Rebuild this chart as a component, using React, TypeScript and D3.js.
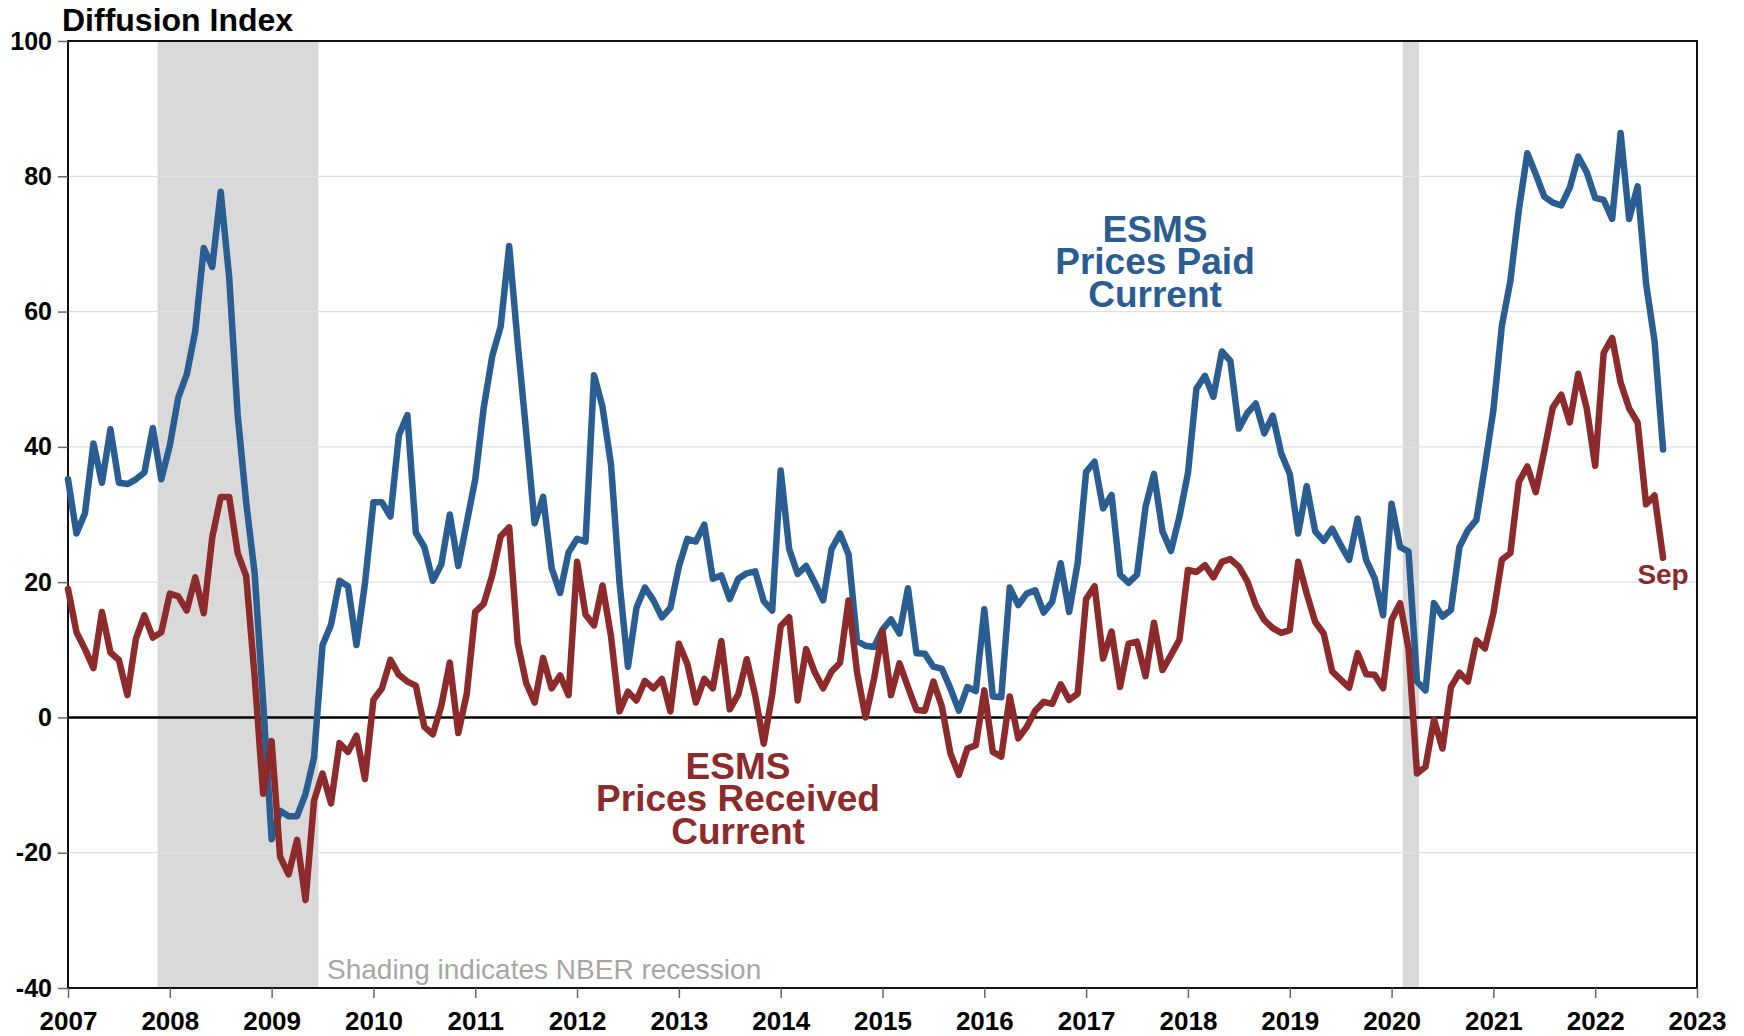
import React, { useEffect, useRef } from 'react';
import * as d3 from 'd3';

// monthly observations, Jan 2007 .. Sep 2022
const startYear = 2007;

const pricesPaid = [
  35.2, 27.2, 30.2, 40.5, 34.7, 42.6, 34.7, 34.5, 35.2, 36.2, 42.8, 35.2,
  40.2, 47.3, 50.7, 57.1, 69.4, 66.6, 77.7, 65.0, 44.7, 31.8, 21.3, 2.3,
  -18.0, -13.8, -14.6, -14.6, -11.3, -5.9, 10.7, 13.7, 20.2, 19.4, 10.7, 19.8,
  31.8, 31.8, 29.7, 41.7, 44.7, 27.3, 25.2, 20.2, 22.6, 30.0, 22.4, 28.8,
  35.2, 45.8, 53.4, 57.8, 69.7, 55.4, 42.2, 28.7, 32.6, 22.1, 18.4, 24.4,
  26.4, 26.0, 50.6, 45.9, 37.4, 20.0, 7.5, 16.2, 19.2, 17.3, 14.8, 16.2,
  22.3, 26.4, 26.0, 28.5, 20.5, 21.0, 17.5, 20.5, 21.3, 21.6, 17.2, 15.8,
  36.5, 24.9, 21.2, 22.4, 20.0, 17.3, 24.9, 27.2, 24.1, 11.3, 10.6, 10.4,
  13.0, 14.5, 12.4, 19.1, 9.5, 9.4, 7.5, 7.2, 4.3, 1.0, 4.5, 3.9,
  16.0, 3.1, 3.0, 19.2, 16.6, 18.3, 18.8, 15.5, 17.1, 22.8, 15.6, 22.8,
  36.3, 37.8, 30.9, 32.9, 21.1, 19.9, 21.1, 31.1, 36.0, 27.5, 24.6, 29.7,
  36.1, 48.6, 50.5, 47.4, 54.1, 52.7, 42.7, 45.0, 46.4, 42.0, 44.6, 39.0,
  36.0, 27.2, 34.2, 27.5, 26.1, 27.9, 25.5, 23.3, 29.4, 23.3, 20.6, 15.1,
  31.6, 25.2, 24.5, 5.3, 4.0, 16.9, 14.9, 15.9, 25.2, 27.7, 29.2, 37.1,
  45.4, 57.9, 64.5, 75.0, 83.4, 80.3, 77.0, 76.1, 75.7, 78.3, 82.9, 80.6,
  76.8, 76.5, 73.7, 86.4, 73.7, 78.5, 64.1, 55.6, 39.6,
];

const pricesReceived = [
  19.0, 12.6, 10.1, 7.3, 15.6, 9.6, 8.5, 3.3, 11.6, 15.1, 11.8, 12.6,
  18.3, 17.9, 15.8, 20.7, 15.4, 26.6, 32.6, 32.6, 24.3, 20.9, 6.0, -11.3,
  -3.5, -20.6, -23.2, -18.1, -27.0, -12.3, -8.3, -12.7, -3.8, -5.1, -2.7, -9.1,
  2.6, 4.3, 8.5, 6.3, 5.3, 4.7, -1.4, -2.5, 1.7, 8.1, -2.3, 3.5,
  15.6, 16.8, 21.0, 26.8, 28.1, 11.0, 5.1, 2.2, 8.8, 4.3, 6.2, 3.3,
  23.0, 15.2, 13.6, 19.5, 12.0, 0.9, 3.8, 2.5, 5.4, 4.3, 5.7, 0.9,
  10.9, 7.9, 2.2, 5.7, 4.3, 11.3, 1.2, 3.4, 8.6, 3.2, -3.9, 3.4,
  13.5, 14.8, 2.5, 10.1, 6.7, 4.3, 6.8, 8.1, 17.3, 6.7, 0.0, 5.7,
  12.8, 3.3, 8.0, 4.5, 1.1, 1.0, 5.3, 1.6, -5.3, -8.5, -4.6, -4.1,
  4.0, -5.1, -5.8, 3.1, -3.1, -1.4, 1.0, 2.3, 2.0, 4.9, 2.6, 3.5,
  17.5, 19.4, 8.7, 12.7, 4.5, 10.9, 11.2, 6.1, 14.0, 7.0, 9.2, 11.5,
  21.8, 21.5, 22.5, 20.7, 23.0, 23.4, 22.3, 20.1, 16.6, 14.4, 13.2, 12.5,
  12.9, 23.0, 18.3, 14.1, 12.4, 6.8, 5.6, 4.4, 9.5, 6.4, 6.3, 4.3,
  14.4, 16.9, 10.2, -8.3, -7.3, -0.3, -4.6, 4.5, 6.6, 5.3, 11.4, 10.2,
  15.4, 23.3, 24.3, 34.8, 37.1, 33.3, 39.4, 45.8, 47.7, 43.6, 50.8, 45.7,
  37.2, 53.9, 56.1, 49.5, 45.7, 43.6, 31.5, 32.8, 23.6,
];

const yearTicks = d3.range(2007, 2024);
const yTicks = [-40, -20, 0, 20, 40, 60, 80, 100];
// NBER recessions as fractional years
const recessions = [
  [2007.88, 2009.46],
  [2020.11, 2020.27],
];

const BLUE = '#2a5d91';
const RED = '#8c2a2c';
const FONT = '"Liberation Sans", Arial, Helvetica, sans-serif';

function DiffusionChart() {
  const svgRef = useRef(null);

  useEffect(() => {
    const svg = d3.select(svgRef.current);
    svg.selectAll('*').remove();

    const left = 68, right = 1697, top = 41, bottom = 988;

    const x = d3.scaleLinear().domain([2007, 2023]).range([left, right]);
    const y = d3.scaleLinear().domain([-40, 100]).range([bottom, top]);

    const t = (i) => startYear + i / 12;

    // recession shading
    svg.append('g')
      .selectAll('rect')
      .data(recessions)
      .enter()
      .append('rect')
      .attr('x', d => x(d[0]))
      .attr('width', d => x(d[1]) - x(d[0]))
      .attr('y', top)
      .attr('height', bottom - top)
      .attr('fill', '#d9d9d9');

    // gridlines
    svg.append('g')
      .selectAll('line')
      .data(yTicks.filter(v => v !== 0 && v !== 100 && v !== -40))
      .enter()
      .append('line')
      .attr('x1', left)
      .attr('x2', right)
      .attr('y1', d => y(d))
      .attr('y2', d => y(d))
      .attr('stroke', '#e1e1e1')
      .attr('stroke-width', 1.2);

    // shading note
    svg.append('text')
      .attr('x', 327)
      .attr('y', 979)
      .attr('font-family', FONT)
      .attr('font-size', 28)
      .attr('fill', '#a6a6a6')
      .text('Shading indicates NBER recession');

    // zero line
    svg.append('line')
      .attr('x1', left).attr('x2', right)
      .attr('y1', y(0)).attr('y2', y(0))
      .attr('stroke', '#000').attr('stroke-width', 2.5);

    // frame
    svg.append('rect')
      .attr('x', left).attr('y', top)
      .attr('width', right - left).attr('height', bottom - top)
      .attr('fill', 'none')
      .attr('stroke', '#111')
      .attr('stroke-width', 2);

    // Y axis
    const yAxis = svg.append('g')
      .attr('transform', `translate(${left},0)`)
      .call(d3.axisLeft(y).tickValues(yTicks).tickSize(10).tickPadding(6).tickFormat(d => String(d)));
    yAxis.select('.domain').remove();
    yAxis.selectAll('line').attr('stroke', '#666').attr('stroke-width', 1.5);
    yAxis.selectAll('text')
      .attr('font-family', FONT)
      .attr('font-size', 25)
      .attr('font-weight', 'bold')
      .attr('fill', '#000');

    // X axis
    const xAxis = svg.append('g')
      .attr('transform', `translate(0,${bottom})`)
      .call(d3.axisBottom(x).tickValues(yearTicks).tickSize(10).tickPadding(14).tickFormat(d => String(d)));
    xAxis.select('.domain').remove();
    xAxis.selectAll('line').attr('stroke', '#666').attr('stroke-width', 1.5);
    xAxis.selectAll('text')
      .attr('font-family', FONT)
      .attr('font-size', 26)
      .attr('font-weight', 'bold')
      .attr('fill', '#000');

    const line = d3.line()
      .x((d, i) => x(t(i)))
      .y(d => y(d));

    svg.append('path')
      .datum(pricesPaid)
      .attr('d', line)
      .attr('fill', 'none')
      .attr('stroke', BLUE)
      .attr('stroke-width', 6.5)
      .attr('stroke-linejoin', 'round')
      .attr('stroke-linecap', 'round');

    svg.append('path')
      .datum(pricesReceived)
      .attr('d', line)
      .attr('fill', 'none')
      .attr('stroke', RED)
      .attr('stroke-width', 6.5)
      .attr('stroke-linejoin', 'round')
      .attr('stroke-linecap', 'round');

    // title
    svg.append('text')
      .attr('x', 62)
      .attr('y', 31)
      .attr('font-family', FONT)
      .attr('font-size', 32)
      .attr('font-weight', 'bold')
      .attr('fill', '#000')
      .text('Diffusion Index');

    // series labels
    const addLabel = (lines, cx, y0, color) => {
      lines.forEach((s, k) => {
        svg.append('text')
          .attr('x', cx)
          .attr('y', y0 + k * 32.3)
          .attr('text-anchor', 'middle')
          .attr('font-family', FONT)
          .attr('font-size', 37)
          .attr('font-weight', 'bold')
          .attr('fill', color)
          .text(s);
      });
    };
    addLabel(['ESMS', 'Prices Paid', 'Current'], 1155, 242, BLUE);
    addLabel(['ESMS', 'Prices Received', 'Current'], 738, 779, RED);

    const lastIdx = pricesReceived.length - 1;
    svg.append('text')
      .attr('x', x(t(lastIdx)))
      .attr('y', 584)
      .attr('text-anchor', 'middle')
      .attr('font-family', FONT)
      .attr('font-size', 28)
      .attr('font-weight', 'bold')
      .attr('fill', RED)
      .text('Sep');
  }, []);

  return <svg ref={svgRef} width={1744} height={1036} style={{ position: 'absolute', left: 0, top: 0 }} />;
}

export default function App() {
  return <DiffusionChart />;
}
